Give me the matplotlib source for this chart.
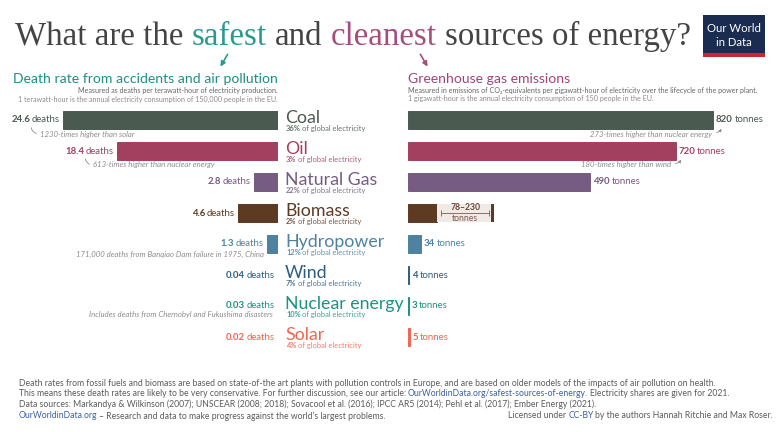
import matplotlib
matplotlib.use('Agg')
import matplotlib.pyplot as plt
from matplotlib.patches import Rectangle, FancyArrowPatch
from matplotlib.transforms import IdentityTransform

# ---------------- data ----------------
sources = ["Coal", "Oil", "Natural Gas", "Biomass", "Hydropower", "Wind", "Nuclear energy", "Solar"]
deaths = [24.6, 18.4, 2.8, 4.6, 1.3, 0.04, 0.03, 0.02]
emissions = [820, 720, 490, 78, 34, 4, 3, 5]
biomass_low = 78
biomass_high = 230
shares = [36, 3, 22, 2, 12, 7, 10, 4]
colors = ["#4b5a50", "#a4405f", "#765b82", "#5d3a22", "#4d82a0", "#2f5e83", "#1f9282", "#f06650"]
death_notes = {0: "1230-times higher than solar", 1: "613-times higher than nuclear energy",
               4: "171,000 deaths from Banqiao Dam failure in 1975, China",
               6: "Includes deaths from Chernobyl and Fukushima disasters"}
emission_notes = {0: "273-times higher than nuclear energy", 1: "180-times higher than wind"}

W, H = 783, 432
fig = plt.figure(figsize=(W / 100, H / 100), dpi=100)
fig.patch.set_facecolor('white')
R = fig.canvas.get_renderer()
SANS = ['Lato', 'DejaVu Sans']
SERIF = ['Liberation Serif', 'DejaVu Serif']
GRAY = "#5b5b5b"
LGRAY = "#8c8c8c"
BLUE = "#3b5fa8"
TEAL = "#1e8f85"
MAG = "#a2447a"


def tw(s, **kw):
    t = fig.text(0, 0, s, **kw)
    w = t.get_window_extent(R).width
    t.remove()
    return w


def rich(x, y, pieces, ha='left', va='baseline', base=None, draw=True, gap=0.8):
    base = base or {}
    items = []
    for s, kw in pieces:
        k = dict(base)
        k.update(kw)
        items.append((s, k))
    sw = (tw('x x', **items[-1][1]) - tw('xx', **items[-1][1])) * gap
    widths = [tw(s, **k) for s, k in items]
    total = sum(widths) + sw * (len(items) - 1)
    if not draw:
        return total
    if ha == 'right':
        x0 = x - total
    elif ha == 'center':
        x0 = x - total / 2
    else:
        x0 = x
    for (s, k), w in zip(items, widths):
        fig.text(x0 / W, y / H, s, ha='left', va=va, **k)
        x0 += w + sw
    return total


def Y(ypx):
    return H - ypx

# ---------------- title ----------------
title_pieces = [("What are the", {'color': "#444444"}), ("safest", {'color': "#2a9a90"}),
                ("and", {'color': "#444444"}), ("cleanest", {'color': "#a64d7e"}),
                ("sources of energy?", {'color': "#444444"})]
tot = rich(0, 0, title_pieces, base={'family': SERIF, 'fontsize': 20}, draw=False, gap=1.0)
fs_title = 20 * 675 / tot
rich(15, Y(45), title_pieces, base={'family': SERIF, 'fontsize': fs_title}, gap=1.0)

# logo
fig.add_artist(Rectangle((703 / W, Y(57) / H), 62 / W, 42 / H, transform=fig.transFigure,
                         facecolor="#1a2c50", edgecolor='none'))
fig.add_artist(Rectangle((703 / W, Y(57) / H), 62 / W, 4 / H, transform=fig.transFigure,
                         facecolor="#c8282b", edgecolor='none'))
fig.text(734 / W, Y(28) / H, "Our World", color='white', family=SANS, fontsize=8.2, ha='center', va='center')
fig.text(734 / W, Y(43) / H, "in Data", color='white', family=SANS, fontsize=8.2, ha='center', va='center')

# arrows from title
fig.add_artist(FancyArrowPatch((229, Y(52)), (219, Y(69)), transform=IdentityTransform(),
                               arrowstyle='-|>', mutation_scale=7, color="#2a9a90", lw=1.2))
fig.add_artist(FancyArrowPatch((419, Y(52)), (429, Y(69)), transform=IdentityTransform(),
                               arrowstyle='-|>', mutation_scale=7, color="#a64d7e", lw=1.2))

# ---------------- headers ----------------
hdr_l = "Death rate from accidents and air pollution"
fs_h = 10 * 264 / tw(hdr_l, family=SANS, fontsize=10)
fig.text(278 / W, Y(79) / H, hdr_l, family=SANS, fontsize=fs_h, color=TEAL, ha='right', va='center')
fig.text(408 / W, Y(79) / H, "Greenhouse gas emissions", family=SANS, fontsize=fs_h, color=MAG,
         ha='left', va='center')
sub_l2 = "1 terawatt-hour is the annual electricity consumption of 150,000 people in the EU."
fs_s = 10 * 258 / tw(sub_l2, family=SANS, fontsize=10)
fig.text(278 / W, Y(90) / H, "Measured as deaths per terawatt-hour of electricity production.",
         family=SANS, fontsize=fs_s, color="#666666", ha='right', va='center')
fig.text(278 / W, Y(99) / H, sub_l2, family=SANS, fontsize=fs_s, color=LGRAY, ha='right', va='center')
fig.text(408 / W, Y(90) / H,
         "Measured in emissions of CO\u2082-equivalents per gigawatt-hour of electricity over the lifecycle of the power plant.",
         family=SANS, fontsize=fs_s, color="#666666", ha='left', va='center')
fig.text(408 / W, Y(99) / H, "1 gigawatt-hour is the annual electricity consumption of 150 people in the EU.",
         family=SANS, fontsize=fs_s, color=LGRAY, ha='left', va='center')

# ---------------- axes ----------------
top_px, bot_px = 104.5, 352.5
y0 = (H - bot_px) / H
hh = (bot_px - top_px) / H
axL = fig.add_axes([0, y0, 278 / W, hh])
axR = fig.add_axes([408 / W, y0, 375 / W, hh])
pxL = 8.74   # px per death
pxR = 0.372  # px per tonne
axL.set_xlim(278 / pxL, 0)
axR.set_xlim(0, 375 / pxR)
n = len(sources)
for ax in (axL, axR):
    ax.set_ylim(n - 0.5, -0.5)
    ax.axis('off')

bh = 0.55
for i in range(n):
    axL.barh(i, deaths[i], height=bh, color=colors[i], edgecolor=colors[i], lw=0.7)
    axR.barh(i, emissions[i], height=bh, color=colors[i], edgecolor=colors[i], lw=0.7)

# biomass range
bi = sources.index("Biomass")
axR.barh(bi, biomass_high - biomass_low, left=biomass_low, height=bh, color="#f1e9e6", edgecolor='none')
axR.barh(bi, 8, left=biomass_high - 8, height=bh, color=colors[bi], edgecolor='none')
axR.plot([biomass_low + 12, biomass_high - 12], [bi, bi], color="#8c6f62", lw=0.7)
axR.plot([biomass_low + 12, biomass_high - 12], [bi, bi], color="#8c6f62", lw=0, marker='|', ms=4, mew=0.7)
mid = (biomass_low + biomass_high) / 2
axR.annotate(f"{biomass_low}\u2013{biomass_high}", (mid, bi), xytext=(0, 1), textcoords='offset pixels',
             ha='center', va='bottom', family=SANS, fontsize=6.2, fontweight='bold', color="#6b4a3a")
axR.annotate("tonnes", (mid, bi), xytext=(0, -1), textcoords='offset pixels',
             ha='center', va='top', family=SANS, fontsize=6.2, color="#7b5a4a")

fig.canvas.draw()

sub_fs = 5.4
val_fs = 6.9
for i in range(n):
    c = colors[i]
    xd, yd = axL.transData.transform((deaths[i], i))
    rich(xd - 3, yd, [(f"{deaths[i]}", {'fontweight': 'bold'}), ("deaths", {})], ha='right', va='center',
         base={'family': SANS, 'fontsize': val_fs, 'color': c}, gap=0.6)
    if sources[i] != "Biomass":
        xr, yr = axR.transData.transform((emissions[i], i))
        rich(xr + 3, yr, [(f"{emissions[i]}", {'fontweight': 'bold'}), ("tonnes", {})], ha='left', va='center',
             base={'family': SANS, 'fontsize': val_fs, 'color': c}, gap=0.6)
    # category label
    fig.text(285 / W, (yd - 3) / H, sources[i], family=SANS, fontsize=12.8, color=c, ha='left', va='baseline')
    rich(286, yd - 11, [(f"{shares[i]}%", {'fontweight': 'bold'}), ("of global electricity", {})],
         base={'family': SANS, 'fontsize': sub_fs, 'color': c, 'alpha': 0.85}, gap=0.6)

note_kw = dict(family=SANS, fontsize=5.6, style='italic', color=LGRAY, textcoords='offset pixels', va='center')
# left notes
for i, off, ha in [(0, (-23, -14), 'left'), (1, (-24, -14), 'left'), (4, (-3, -10), 'right'), (6, (-5, -9), 'right')]:
    axL.annotate(death_notes[i], (deaths[i], i), xytext=off, ha=ha, **note_kw)
for i, a, b in [(0, (-32, -5), (-24, -14)), (1, (-32, -5), (-25, -14))]:
    xd, yd = axL.transData.transform((deaths[i], i))
    fig.add_artist(FancyArrowPatch((xd + a[0], yd + a[1]), (xd + b[0], yd + b[1]), transform=IdentityTransform(),
                                   arrowstyle='-', connectionstyle='arc3,rad=0.45', color=LGRAY, lw=0.6))
# right notes
for i, off in [(0, (-1, -14)), (1, (-5, -14))]:
    axR.annotate(emission_notes[i], (emissions[i], i), xytext=off, ha='right', **note_kw)
for i, a, b in [(0, (1, -13), (9, -6)), (1, (-3, -13), (6, -6))]:
    xr, yr = axR.transData.transform((emissions[i], i))
    fig.add_artist(FancyArrowPatch((xr + a[0], yr + a[1]), (xr + b[0], yr + b[1]), transform=IdentityTransform(),
                                   arrowstyle='-|>', mutation_scale=4, connectionstyle='arc3,rad=0.4',
                                   color=LGRAY, lw=0.6))

# ---------------- footer ----------------
f1 = "Death rates from fossil fuels and biomass are based on state-of-the art plants with pollution controls in Europe, and are based on older models of the impacts of air pollution on health."
fs_f = 10 * 698 / tw(f1, family=SANS, fontsize=10)
fb = {'family': SANS, 'fontsize': fs_f, 'color': GRAY}
fig.text(19 / W, Y(383) / H, f1, va='center', **fb)
rich(19, Y(393), [("This means these death rates are likely to be very conservative. For further discussion, see our article:", {}),
                  ("OurWorldinData.org/safest-sources-of-energy.", {'color': BLUE}),
                  ("Electricity shares are given for 2021.", {})], va='center', base=fb, gap=0.8)
fig.text(19 / W, Y(404) / H,
         "Data sources: Markandya & Wilkinson (2007); UNSCEAR (2008; 2018); Sovacool et al. (2016); IPCC AR5 (2014); Pehl et al. (2017); Ember Energy (2021).",
         va='center', **fb)
rich(19, Y(416), [("OurWorldinData.org", {'color': BLUE}),
                  ("\u2013 Research and data to make progress against the world\u2019s largest problems.", {})],
     va='center', base=fb, gap=0.8)
rich(773, Y(416), [("Licensed under", {}), ("CC-BY", {'color': BLUE}),
                   ("by the authors Hannah Ritchie and Max Roser.", {})], ha='right', va='center', base=fb, gap=0.8)

fig.savefig("out.png", dpi=100)
